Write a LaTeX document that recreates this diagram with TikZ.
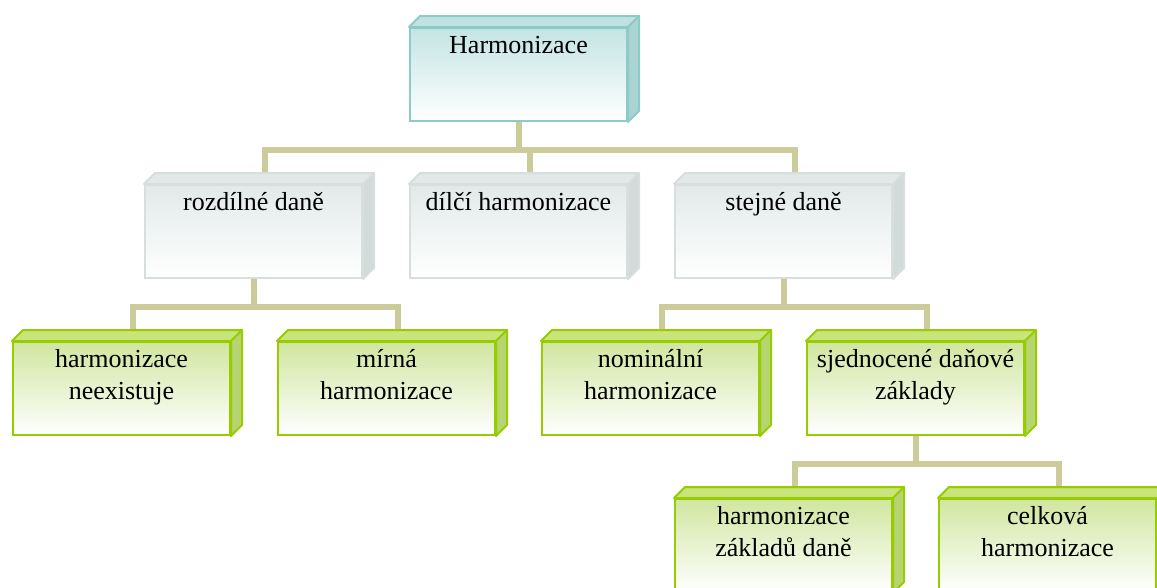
\documentclass[tikz,border=0pt]{standalone}
\usepackage{fontspec}
\setmainfont{Liberation Serif}
\usetikzlibrary{calc,backgrounds}

\definecolor{lineharm}{RGB}{140,204,200}
\definecolor{topharm}{RGB}{196,228,228}
\definecolor{lidharm}{RGB}{192,226,226}
\definecolor{sideharm}{RGB}{172,211,211}
\definecolor{linegrey}{RGB}{214,222,222}
\definecolor{topgrey}{RGB}{226,233,233}
\definecolor{lidgrey}{RGB}{226,232,232}
\definecolor{sidegrey}{RGB}{210,218,218}
\definecolor{linegreen}{RGB}{150,204,0}
\definecolor{topgreen}{RGB}{208,230,160}
\definecolor{lidgreen}{RGB}{200,228,122}
\definecolor{sidegreen}{RGB}{182,212,112}
\definecolor{linkcol}{RGB}{204,204,154}

% text sits at the top of the front face
\newcommand{\boxtext}[1]{\parbox[t][93pt][t]{217pt}{\centering\rule{0pt}{25pt}#1}}

\begin{document}
\begin{tikzpicture}[x=1pt, y=-1pt,
    cube/.style={anchor=north west, inner sep=0pt, line width=2pt,
        font=\fontsize{26}{32}\selectfont},
    harm/.style={cube, draw=lineharm, top color=topharm, bottom color=white},
    grey/.style={cube, draw=linegrey, top color=topgrey, bottom color=white},
    green/.style={cube, draw=linegreen, top color=topgreen, bottom color=white},
    link/.style={draw=linkcol, line width=6pt}
]
\useasboundingbox (0,0) rectangle (1157,587);

% level 1
\node[harm] (harm) at (409,27) {\boxtext{Harmonizace}};

% level 2
\node[grey] (roz)  at (144,184) {\boxtext{rozdílné daně}};
\node[grey] (dil)  at (409,184) {\boxtext{dílčí harmonizace}};
\node[grey] (stej) at (674,184) {\boxtext{stejné daně}};

% level 3
\node[green] (neex)  at (12,341)  {\boxtext{harmonizace\\neexistuje}};
\node[green] (mirna) at (277,341) {\boxtext{mírná\\harmonizace}};
\node[green] (nom)   at (541,341) {\boxtext{nominální\\harmonizace}};
\node[green] (sjed)  at (806,341) {\boxtext{sjednocené daňové\\základy}};

% level 4
\node[green] (zakl) at (674,498) {\boxtext{harmonizace\\základů daně}};
\node[green] (celk) at (938,498) {\boxtext{celková\\harmonizace}};

% top and side faces
\foreach \n/\s in {harm/harm, roz/grey, dil/grey, stej/grey, neex/green,
                   mirna/green, nom/green, sjed/green, zakl/green, celk/green} {
  \filldraw[fill=lid\s, draw=line\s, line width=2pt, line join=round]
    (\n.north west) -- ++(11pt,11pt) -- ([shift={(11pt,11pt)}]\n.north east)
    -- (\n.north east) -- cycle;
  \filldraw[fill=side\s, draw=line\s, line width=2pt, line join=round]
    (\n.north east) -- ++(11pt,11pt) -- ([shift={(11pt,11pt)}]\n.south east)
    -- (\n.south east) -- cycle;
  \coordinate (\n-in) at ([shift={(11pt,11pt)}]\n.north);
}

\begin{scope}[on background layer]
\draw[link] (harm.south) |- ($(harm.south)!.55!(roz-in)$) -| (roz-in);
\draw[link] (harm.south) |- ($(harm.south)!.55!(dil-in)$) -| (dil-in);
\draw[link] (harm.south) |- ($(harm.south)!.55!(stej-in)$) -| (stej-in);

\draw[link] (roz.south) |- ($(roz.south)!.55!(neex-in)$) -| (neex-in);
\draw[link] (roz.south) |- ($(roz.south)!.55!(mirna-in)$) -| (mirna-in);

\draw[link] (stej.south) |- ($(stej.south)!.55!(nom-in)$) -| (nom-in);
\draw[link] (stej.south) |- ($(stej.south)!.55!(sjed-in)$) -| (sjed-in);

\draw[link] (sjed.south) |- ($(sjed.south)!.55!(zakl-in)$) -| (zakl-in);
\draw[link] (sjed.south) |- ($(sjed.south)!.55!(celk-in)$) -| (celk-in);
\end{scope}

\end{tikzpicture}
\end{document}
